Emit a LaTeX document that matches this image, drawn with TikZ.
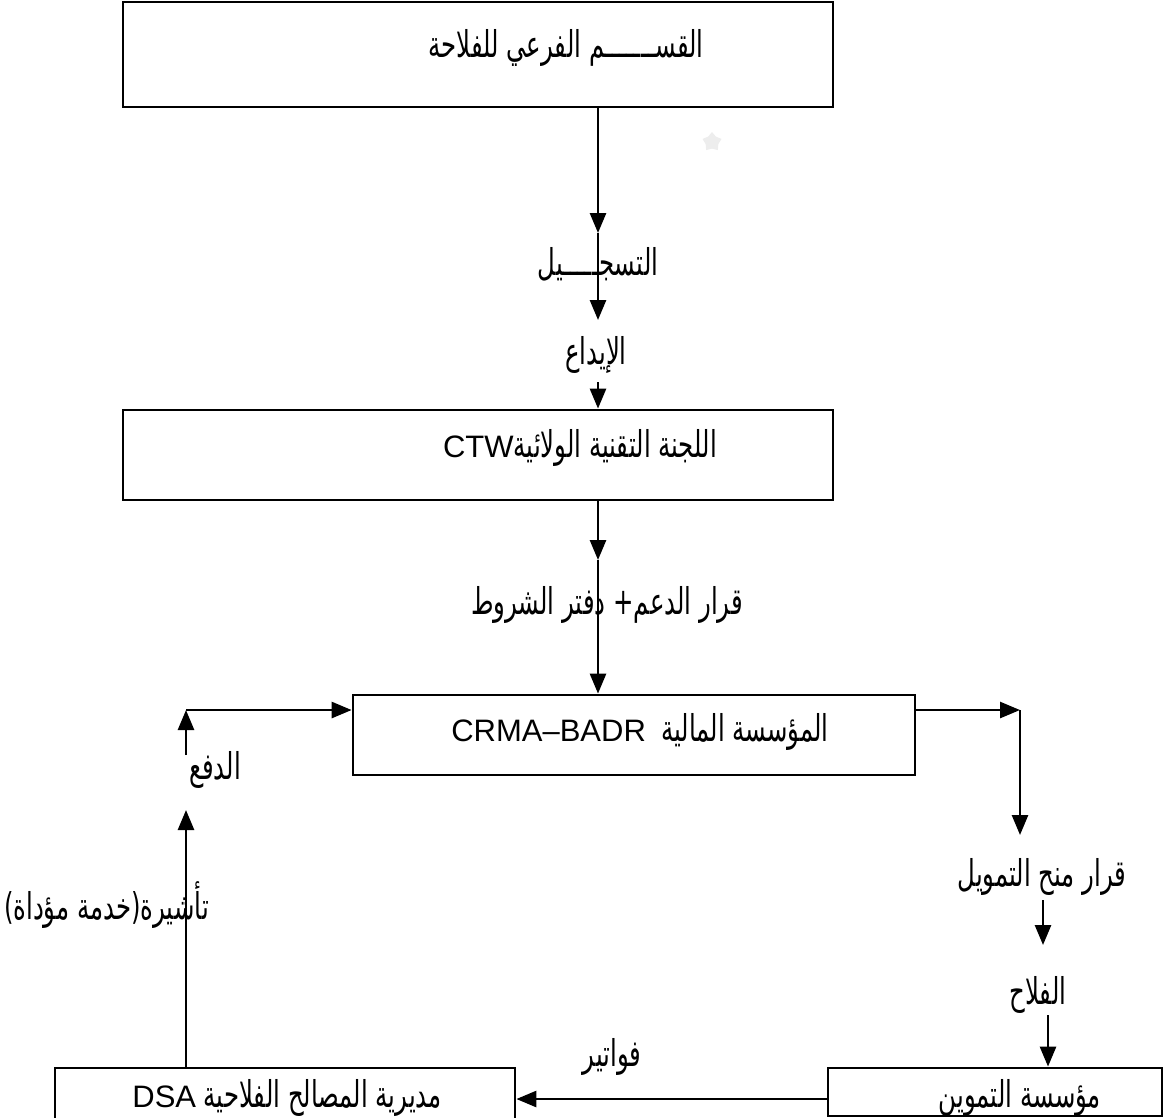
\documentclass[tikz,border=0pt]{standalone}
\usepackage{fontspec}
\newfontfamily\arabicfont[Script=Arabic, FakeStretch=0.66]{DejaVu Sans}
\newfontfamily\latinfont[Scale=0.84]{Liberation Sans}
\TeXXeTstate=1
\usetikzlibrary{arrows.meta, shapes.geometric}

\newcommand{\artxt}[1]{{\arabicfont\beginR #1\endR}}
\newcommand{\lattxt}[1]{\beginL{\latinfont #1}\endL}

\begin{document}
\begin{tikzpicture}[x=0.02cm, y=-0.02cm,
    box/.style = {draw, line width=1.6pt, inner sep=0pt},
    txt/.style = {font=\fontsize{21}{25}\selectfont, inner sep=1pt},
    tip/.style = {line width=1.5pt, -{Triangle[length=0.4cm, width=0.32cm]}}]
  \useasboundingbox (0,0) rectangle (1168,1117);

  % boxes
  \node[box, minimum width=14.2cm, minimum height=2.1cm] (sub) at (478,54.5) {};
  \node[txt] (subT) at (566,48) {\artxt{القســـــــم الفرعي للفلاحة}};
  \node[box, minimum width=14.2cm, minimum height=1.8cm] (ctw) at (478,455) {};
  \node[txt] (ctwT) at (580,448) {\artxt{اللجنة التقنية الولائية\lattxt{CTW}}};
  \node[box, minimum width=11.24cm, minimum height=1.6cm] (fin) at (634,735) {};
  \node[txt] (finT) at (640,732) {\artxt{المؤسسة المالية \ \lattxt{CRMA–BADR}}};
  \node[box, minimum width=6.68cm, minimum height=0.96cm] (sup) at (995,1092) {};
  \node[txt] (supT) at (1020,1098) {\artxt{مؤسسة التموين}};
  \node[box, minimum width=9.2cm, minimum height=1.24cm] (dsa) at (285,1099) {};
  \node[txt] (dsaT) at (287,1098) {\artxt{مديرية المصالح الفلاحية \lattxt{DSA}}};

  % faint mark under the top box
  \node[star, star points=5, fill=black!7, minimum size=0.4cm, inner sep=0pt] (mark) at (712,142) {};

  % top column
  \coordinate (r1) at (598,233);
  \coordinate (r2) at (598,320);
  \coordinate (r3) at (598,382);
  \draw[tip] (sub.south -| r1) -- (r1);
  \draw[tip] (r1) -- (r2);
  \node[txt] (reg) at (598,264) {\artxt{التسجـــــيل}};
  \node[txt] (dep) at (596,355) {\artxt{الإيداع}};
  \draw[tip] (r3) -- (r3 |- ctw.north);

  \coordinate (d1) at (598,560);
  \draw[tip] (ctw.south -| d1) -- (d1);
  \draw[tip] (d1) -- (d1 |- fin.north);
  \node[txt] (dec) at (607,605) {\artxt{قرار الدعم+ دفتر الشروط}};

  % right branch
  \coordinate (e1) at (1020,710);
  \coordinate (e2) at (1020,835);
  \coordinate (e3) at (1043,900);
  \coordinate (e4) at (1043,945);
  \coordinate (e5) at (1048,1015);
  \draw[tip] (fin.east |- e1) -- (e1);
  \draw[tip] (e1) -- (e2);
  \node[txt] (grant) at (1042,877) {\artxt{قرار منح التمويل}};
  \draw[tip] (e3) -- (e4);
  \node[txt] (farm) at (1038,995) {\artxt{الفلاح}};
  \draw[tip] (e5) -- (e5 |- sup.north);

  % bottom
  \draw[tip] (sup.west |- dsa.east) -- (dsa.east);
  \node[txt] (bill) at (612,1057) {\artxt{فواتير}};

  % left branch
  \coordinate (w1) at (186,810);
  \coordinate (w2) at (186,755);
  \coordinate (w3) at (186,710);
  \draw[tip] (dsa.north -| w1) -- (w1);
  \node[txt, anchor=west] (visa) at (2,905) {\artxt{تأشيرة(خدمة مؤداة)}};
  \node[txt] (pay) at (215,770) {\artxt{الدفع}};
  \draw[tip] (w2) -- (w3);
  \draw[tip] (w3) -- (fin.west |- w3);
\end{tikzpicture}
\end{document}
